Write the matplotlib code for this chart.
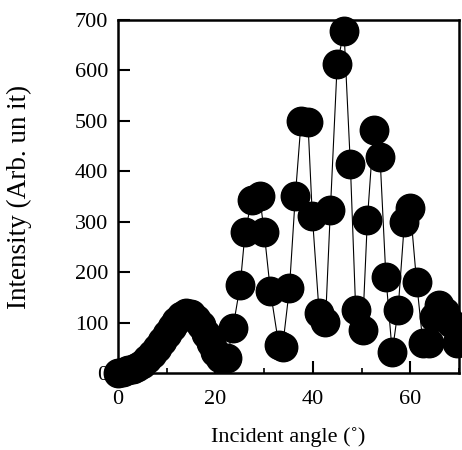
import matplotlib
matplotlib.use("Agg")
import matplotlib.pyplot as plt
from matplotlib.ticker import MultipleLocator

plt.rcParams['font.family'] = ['Liberation Serif', 'DejaVu Serif']

angle = [0, 1, 2, 3, 4, 5, 6, 7, 8, 9, 10, 11, 12, 13, 14, 15, 16, 17, 18, 19, 20, 21,
         22.4, 23.6, 25.1, 26.1, 27.5, 29.1, 30.0, 31.3, 33.0, 33.8, 35.2, 36.4, 37.6,
         39.0, 39.9, 41.3, 42.6, 43.6, 45.0, 46.4, 47.7, 48.8, 50.2, 51.2, 52.5, 53.8,
         55.0, 56.3, 57.5, 58.8, 60.0, 61.3, 62.6, 63.9, 64.9, 65.9, 67.2, 68.3, 69.6]
intensity = [0, 2, 5, 8, 12, 18, 27, 38, 50, 63, 77, 92, 104, 113, 118, 117, 108, 95,
             78, 60, 42, 30,
             29, 89, 175, 280, 344, 350, 280, 162, 56, 52, 168, 350, 500,
             497, 311, 119, 102, 323, 612, 678, 415, 125, 85, 304, 482, 428,
             191, 41, 125, 299, 327, 181, 59, 60, 112, 135, 120, 100, 60]

xticks = [0, 20, 40, 60]
yticks = [0, 100, 200, 300, 400, 500, 600, 700]

fig = plt.figure(figsize=(4.62, 4.5), dpi=100)
ax = fig.add_axes([0.2554, 0.1711, 0.738, 0.7845])

ax.plot(angle, intensity, color='black', lw=0.8, marker='o', ms=20.5,
        mfc='black', mec='black', clip_on=False, zorder=5)

ax.set_xlim(0, 70)
ax.set_ylim(0, 700)
ax.set_xticks(xticks)
ax.set_yticks(yticks)
ax.xaxis.set_minor_locator(MultipleLocator(10))
ax.tick_params(which='major', direction='in', length=8.5, width=1.5, labelsize=16)
ax.tick_params(axis='x', which='major', pad=12)
ax.tick_params(axis='y', which='major', pad=7)
ax.tick_params(which='minor', direction='in', length=3.6, width=1.2)
ax.tick_params(top=False, right=False)
for s in ax.spines.values():
    s.set_linewidth(1.8)

ax.set_xlabel('Incident angle (˚)', fontsize=16, labelpad=13)
ax.set_ylabel('Intensity (Arb. un it)', fontsize=19.5, labelpad=31)

fig.savefig('out.png', dpi=100)
